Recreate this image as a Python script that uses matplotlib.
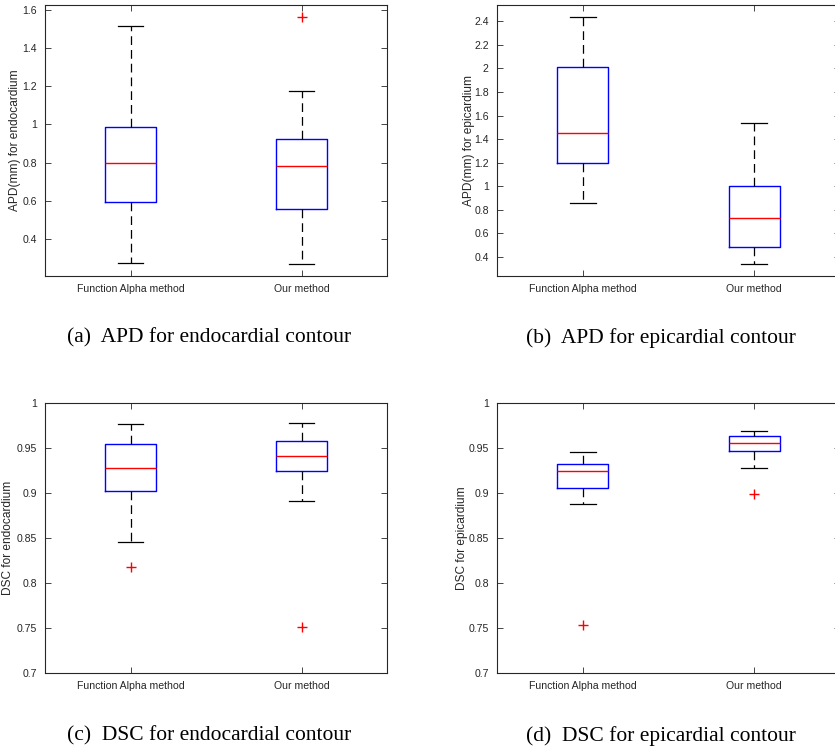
import matplotlib
matplotlib.use("Agg")
import matplotlib.pyplot as plt
from matplotlib.ticker import FuncFormatter
import numpy as np

# box statistics: [Function Alpha method, Our method]
methods = ["Function Alpha method", "Our method"]

apd_endo_lo = [0.274, 0.267]
apd_endo_q1 = [0.595, 0.555]
apd_endo_med = [0.796, 0.782]
apd_endo_q3 = [0.989, 0.922]
apd_endo_hi = [1.516, 1.177]
apd_endo_out = [[], [1.562]]

apd_epi_lo = [0.860, 0.337]
apd_epi_q1 = [1.197, 0.484]
apd_epi_med = [1.449, 0.733]
apd_epi_q3 = [2.010, 1.004]
apd_epi_hi = [2.434, 1.539]
apd_epi_out = [[], []]

dsc_endo_lo = [0.846, 0.891]
dsc_endo_q1 = [0.9017, 0.924]
dsc_endo_med = [0.928, 0.9416]
dsc_endo_q3 = [0.9545, 0.958]
dsc_endo_hi = [0.977, 0.978]
dsc_endo_out = [[0.8174], [0.751]]

dsc_epi_lo = [0.888, 0.928]
dsc_epi_q1 = [0.9058, 0.9468]
dsc_epi_med = [0.924, 0.9557]
dsc_epi_q3 = [0.9327, 0.9634]
dsc_epi_hi = [0.946, 0.969]
dsc_epi_out = [[0.753], [0.899]]

ylabels = ["APD(mm) for endocardium", "APD(mm) for epicardium",
           "DSC for endocardium", "DSC for epicardium"]
captions = ["(a)  APD for endocardial contour", "(b)  APD for epicardial contour",
            "(c)  DSC for endocardial contour", "(d)  DSC for epicardial contour"]


def make_stats(lo, q1, med, q3, hi, out):
    stats = []
    for i in range(len(methods)):
        stats.append(dict(label=methods[i], whislo=lo[i], q1=q1[i], med=med[i],
                          q3=q3[i], whishi=hi[i], fliers=np.array(out[i])))
    return stats


panels = [
    (make_stats(apd_endo_lo, apd_endo_q1, apd_endo_med, apd_endo_q3, apd_endo_hi, apd_endo_out),
     (0.206, 1.626), np.arange(0.4, 1.61, 0.2)),
    (make_stats(apd_epi_lo, apd_epi_q1, apd_epi_med, apd_epi_q3, apd_epi_hi, apd_epi_out),
     (0.239, 2.538), np.arange(0.4, 2.41, 0.2)),
    (make_stats(dsc_endo_lo, dsc_endo_q1, dsc_endo_med, dsc_endo_q3, dsc_endo_hi, dsc_endo_out),
     (0.7, 1.0), np.arange(0.7, 1.001, 0.05)),
    (make_stats(dsc_epi_lo, dsc_epi_q1, dsc_epi_med, dsc_epi_q3, dsc_epi_hi, dsc_epi_out),
     (0.7, 1.0), np.arange(0.7, 1.001, 0.05)),
]

W, H = 835.0, 749.0
# axes rectangles in pixels: left, top, right, bottom
rects = [(45, 5, 387, 276), (497, 5, 840, 276),
         (45, 403, 387, 673), (497, 403, 840, 673)]
ylab_x = [15, 469, 8, 462]
cap_pos = [(209, 338), (661, 338), (209, 736), (661, 736)]

fig = plt.figure(figsize=(W / 100, H / 100), dpi=100)
gray = "#262626"
sans = "Liberation Sans"

for k in range(4):
    l, t, r, b = rects[k]
    ax = fig.add_axes([l / W, 1 - b / H, (r - l) / W, (b - t) / H])
    stats, ylim, ticks = panels[k]
    ax.bxp(stats, positions=[1, 2], widths=0.3, showfliers=True,
           boxprops=dict(color="blue", linewidth=1.0),
           medianprops=dict(color="red", linewidth=1.0),
           whiskerprops=dict(color="black", linestyle=(0, (7, 4)), linewidth=0.9),
           capprops=dict(color="black", linewidth=0.9),
           flierprops=dict(marker="+", markeredgecolor="red", markersize=7,
                           linestyle="none"))
    ax.set_xlim(0.5, 2.5)
    ax.set_ylim(*ylim)
    ax.set_yticks(ticks)
    ax.yaxis.set_major_formatter(FuncFormatter(lambda v, p: "%g" % round(v, 4)))
    ax.set_xticks([1, 2])
    ax.set_xticklabels(methods)
    ax.tick_params(direction="in", top=True, right=True, length=4, width=0.6,
                   color=gray, labelcolor=gray, labelsize=7.6, pad=6)
    for lab in ax.get_xticklabels() + ax.get_yticklabels():
        lab.set_family(sans)
    for s in ax.spines.values():
        s.set_color(gray)
        s.set_linewidth(0.8)
    ax.set_ylabel(ylabels[k], fontsize=8.6, color=gray, family=sans, va="center")
    ax.yaxis.set_label_coords((ylab_x[k] - l) / (r - l), 0.5)
    fig.text(cap_pos[k][0] / W, 1 - cap_pos[k][1] / H, captions[k],
             ha="center", va="center", fontsize=15.5, family="Liberation Serif")

fig.savefig("out.png", dpi=100)
